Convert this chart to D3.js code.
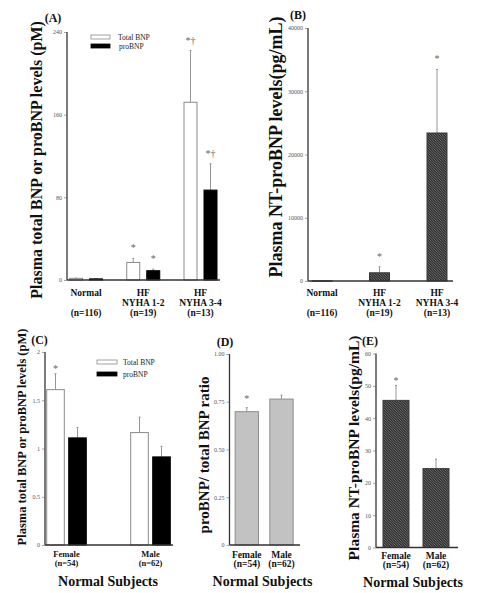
<!DOCTYPE html>
<html><head><meta charset="utf-8">
<script src="https://cdn.jsdelivr.net/npm/d3@7/dist/d3.min.js"></script>
<style>
html,body{margin:0;padding:0;background:#fff;}
svg{display:block;font-family:"Liberation Serif","Times New Roman",serif;}
</style></head>
<body>
<svg id="chart" width="477" height="593"></svg>
<script>
// ---------------- DATA ----------------
// Panel A
const groupsA = ["Normal", "HF NYHA 1-2", "HF NYHA 3-4"];
const groupLabelsA = [["Normal", "", "(n=116)"], ["HF", "NYHA 1-2", "(n=19)"], ["HF", "NYHA 3-4", "(n=13)"]];
const totalBNP_A = [1.6, 17, 172];
const totalBNP_A_sem = [0.2, 4, 50];
const proBNP_A = [1.1, 9, 87];
const proBNP_A_sem = [0.1, 1.5, 25.5];
const totalStarsA = ["", "*", "*\u2020"];
const proStarsA = ["", "*", "*\u2020"];
const ticksA = [0, 80, 160, 240];
const seriesNames = ["Total BNP", "proBNP"];

// Panel B
const ntproBNP_B = [35, 1300, 23400];
const ntproBNP_B_sem = [5, 950, 10050];
const starsB = ["", "*", "*"];
const ticksB = [0, 10000, 20000, 30000, 40000];

// Panels C-E (normal subjects)
const groupsSex = ["Female", "Male"];
const groupLabelsSex = [["Female", "(n=54)"], ["Male", "(n=62)"]];
const totalBNP_C = [1.61, 1.165];
const totalBNP_C_sem = [0.165, 0.16];
const proBNP_C = [1.11, 0.913];
const proBNP_C_sem = [0.108, 0.11];
const totalStarsC = ["*", ""];
const proStarsC = ["", ""];
const ticksC = [0, 0.5, 1, 1.5, 2];
const tickLabelsC = ["0", "0.5", "1", "1.5", "2"];

const ratio_D = [0.698, 0.764];
const ratio_D_sem = [0.021, 0.021];
const starsD = ["*", ""];
const ticksD = [0, 0.25, 0.5, 0.75, 1];
const tickLabelsD = ["0", "0.25", "0.50", "0.75", "1.00"];

const ntproBNP_E = [45.5, 24.4];
const ntproBNP_E_sem = [4.6, 2.9];
const starsE = ["*", ""];
const ticksE = [0, 10, 20, 30, 40, 50, 60];

// ---------------- DRAWING ----------------
const svg = d3.select("#chart");
const defs = svg.append("defs");
const P = 2.5;
const pat = defs.append("pattern").attr("id", "hatch")
  .attr("patternUnits", "userSpaceOnUse").attr("width", P).attr("height", P);
pat.append("rect").attr("width", P).attr("height", P).attr("fill", "#262626");
pat.append("path").attr("d", `M0,0 L${P},${P} M${-P/2},${P/2} L${P/2},${1.5*P} M${P/2},${-P/2} L${1.5*P},${P/2}`)
  .attr("stroke", "#9a9a9a").attr("stroke-width", 0.7);

const styles = {
  white: {fill: "#fff", stroke: "#8a8a8a"},
  black: {fill: "#000", stroke: "#000"},
  hatch: {fill: "url(#hatch)", stroke: "#3a3a3a"},
  gray: {fill: "#c2c2c2", stroke: "#8c8c8c"}
};

function panel(cfg) {
  const g = svg.append("g");
  const y = d3.scaleLinear().domain(cfg.domain).range([cfg.yBot, cfg.yTop]);
  const xc = d3.scalePoint().domain(cfg.groups).range(cfg.centers);
  const sub = d3.scaleBand().domain(cfg.series.map((s, i) => i))
    .range([-cfg.pairWidth / 2, cfg.pairWidth / 2]).paddingInner(cfg.padInner);

  // y axis
  const axis = d3.axisLeft(y).tickValues(cfg.ticks).tickSize(3).tickPadding(2)
    .tickFormat((d, i) => cfg.tickLabels ? cfg.tickLabels[i] : String(d));
  const ag = g.append("g").attr("transform", `translate(${cfg.x0},0)`).call(axis);
  ag.select(".domain").attr("stroke", "#333").attr("stroke-width", 1.3).attr("d", `M0,${cfg.yBot}V${cfg.yTop}`);
  ag.selectAll(".tick line").attr("stroke", "#666").attr("stroke-width", 0.6);
  ag.selectAll(".tick text").attr("fill", "#555").style("font-size", "6px")
    .style("font-family", "'Liberation Serif',serif");

  // bars
  cfg.series.forEach((s, si) => {
    const st = styles[s.style];
    const bx = d => xc(d) + sub(si);
    const bw = sub.bandwidth();
    const data = cfg.groups.map((grp, i) => ({grp, v: s.values[i], e: s.sem[i], star: s.stars[i]}));
    // error bars
    g.selectAll(null).data(data).enter().append("line")
      .attr("x1", d => bx(d.grp) + bw / 2).attr("x2", d => bx(d.grp) + bw / 2)
      .attr("y1", d => y(d.v)).attr("y2", d => y(d.v + d.e))
      .attr("stroke", "#8a8a8a").attr("stroke-width", 0.9);
    g.selectAll(null).data(data).enter().append("line")
      .attr("x1", d => bx(d.grp) + bw / 2 - 1).attr("x2", d => bx(d.grp) + bw / 2 + 1)
      .attr("y1", d => y(d.v + d.e)).attr("y2", d => y(d.v + d.e))
      .attr("stroke", "#8a8a8a").attr("stroke-width", 0.9);
    g.selectAll(null).data(data).enter().append("rect")
      .attr("x", d => bx(d.grp)).attr("width", bw)
      .attr("y", d => y(d.v)).attr("height", d => Math.max(0.5, y(0) - y(d.v)))
      .attr("fill", st.fill).attr("stroke", st.stroke).attr("stroke-width", 1);
    g.selectAll(null).data(data.filter(d => d.star)).enter().append("text")
      .attr("x", d => bx(d.grp) + bw / 2).attr("y", d => y(d.v + d.e) - cfg.starGap)
      .attr("text-anchor", "middle").attr("fill", "#666").style("font-size", "10px")
      .text(d => d.star);
  });

  // baseline
  g.append("line").attr("x1", cfg.x0).attr("x2", cfg.x1).attr("y1", y(0)).attr("y2", y(0))
    .attr("stroke", "#333").attr("stroke-width", 1.3);

  // category labels
  cfg.groups.forEach((grp, i) => {
    cfg.groupLabels[i].forEach((txt, li) => {
      if (!txt) return;
      g.append("text").attr("x", xc(grp)).attr("y", cfg.labelY + li * cfg.labelStep)
        .attr("text-anchor", "middle").style("font-weight", "bold")
        .style("font-size", cfg.labelSize + "px").attr("fill", "#111").text(txt);
    });
  });
  if (cfg.xTitle) {
    g.append("text").attr("x", cfg.xTitle.x).attr("y", cfg.xTitle.y).attr("text-anchor", "middle")
      .style("font-weight", "bold").style("font-size", "14px").attr("fill", "#111").text(cfg.xTitle.text);
  }
  // y title
  g.append("text").attr("transform", `translate(${cfg.yTitle.x},${cfg.yTitle.y}) rotate(-90)`)
    .attr("text-anchor", "middle").style("font-weight", "bold")
    .style("font-size", cfg.yTitle.size + "px").attr("fill", "#111").text(cfg.yTitle.text);
  // panel letter
  g.append("text").attr("x", cfg.letter.x).attr("y", cfg.letter.y).attr("text-anchor", "middle")
    .style("font-weight", "bold").style("font-size", "12px").attr("fill", "#111").text(cfg.letter.text);
  // legend
  if (cfg.legend) {
    cfg.series.forEach((s, si) => {
      const st = styles[s.style];
      const ly = cfg.legend.y + si * cfg.legend.step;
      g.append("rect").attr("x", cfg.legend.x).attr("y", ly - 2).attr("width", cfg.legend.w).attr("height", 4)
        .attr("fill", st.fill).attr("stroke", st.stroke).attr("stroke-width", 0.8);
      g.append("text").attr("x", cfg.legend.x + cfg.legend.w + cfg.legend.gap[si]).attr("y", ly + 2.5)
        .style("font-size", "7.5px").attr("fill", "#222").text(seriesNames[si]);
    });
  }
}

const yTitleBNP = "Plasma total BNP or proBNP levels (pM)";
const yTitleNT = "Plasma NT-proBNP levels(pg/mL)";

panel({
  groups: groupsA, groupLabels: groupLabelsA,
  series: [
    {values: totalBNP_A, sem: totalBNP_A_sem, stars: totalStarsA, style: "white"},
    {values: proBNP_A, sem: proBNP_A_sem, stars: proStarsA, style: "black"}
  ],
  domain: [0, 240], ticks: ticksA, x0: 67, x1: 220, yTop: 32, yBot: 280,
  centers: [86, 200.5], pairWidth: 33, padInner: 0.35, starGap: 7,
  labelY: 296, labelStep: 10, labelSize: 9.5,
  yTitle: {x: 42, y: 160, size: 16, text: yTitleBNP},
  letter: {x: 53, y: 22, text: "(A)"},
  legend: {x: 91, y: 37, step: 9, w: 19, gap: [8, 9]}
});

panel({
  groups: groupsA, groupLabels: groupLabelsA,
  series: [{values: ntproBNP_B, sem: ntproBNP_B_sem, stars: starsB, style: "hatch"}],
  domain: [0, 40000], ticks: ticksB, x0: 308, x1: 453, yTop: 28, yBot: 281,
  centers: [322, 437], pairWidth: 20, padInner: 0, starGap: 7,
  labelY: 296, labelStep: 10, labelSize: 9.5,
  yTitle: {x: 282, y: 147, size: 18, text: yTitleNT},
  letter: {x: 298, y: 19, text: "(B)"}
});

panel({
  groups: groupsSex, groupLabels: groupLabelsSex,
  series: [
    {values: totalBNP_C, sem: totalBNP_C_sem, stars: totalStarsC, style: "white"},
    {values: proBNP_C, sem: proBNP_C_sem, stars: proStarsC, style: "black"}
  ],
  domain: [0, 2], ticks: ticksC, tickLabels: tickLabelsC, x0: 45, x1: 173, yTop: 352, yBot: 545,
  centers: [66.5, 150.5], pairWidth: 39.6, padInner: 0.2, starGap: 2,
  labelY: 557, labelStep: 9, labelSize: 8.5,
  xTitle: {x: 108, y: 586, text: "Normal Subjects"},
  yTitle: {x: 26, y: 437, size: 12.5, text: yTitleBNP},
  letter: {x: 39.5, y: 344, text: "(C)"},
  legend: {x: 97, y: 362, step: 12, w: 20, gap: [6, 6]}
});

panel({
  groups: groupsSex, groupLabels: groupLabelsSex,
  series: [{values: ratio_D, sem: ratio_D_sem, stars: starsD, style: "gray"}],
  domain: [0, 1], ticks: ticksD, tickLabels: tickLabelsD, x0: 229.5, x1: 300, yTop: 354, yBot: 545,
  centers: [246.8, 281.5], pairWidth: 23.3, padInner: 0, starGap: 6,
  labelY: 557.5, labelStep: 9, labelSize: 9.5,
  xTitle: {x: 262.5, y: 586, text: "Normal Subjects"},
  yTitle: {x: 209, y: 455, size: 15, text: "proBNP/ total BNP ratio"},
  letter: {x: 225, y: 346, text: "(D)"}
});

panel({
  groups: groupsSex, groupLabels: groupLabelsSex,
  series: [{values: ntproBNP_E, sem: ntproBNP_E_sem, stars: starsE, style: "hatch"}],
  domain: [0, 60], ticks: ticksE, x0: 376, x1: 458, yTop: 353.5, yBot: 547.5,
  centers: [396, 436], pairWidth: 26, padInner: 0, starGap: 2,
  labelY: 558.5, labelStep: 9, labelSize: 9.5,
  xTitle: {x: 413, y: 587, text: "Normal Subjects"},
  yTitle: {x: 359, y: 448, size: 15.5, text: yTitleNT},
  letter: {x: 370, y: 345, text: "(E)"}
});
</script>
</body></html>
